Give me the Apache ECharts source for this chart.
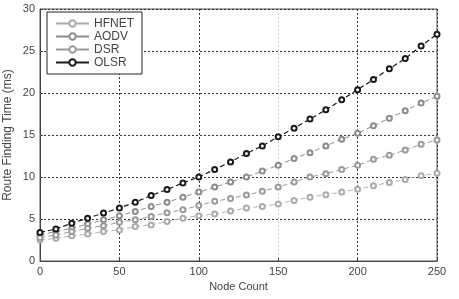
<!DOCTYPE html>
<html><head><meta charset="utf-8">
<script src="https://cdn.jsdelivr.net/npm/echarts@6/dist/echarts.min.js"></script>
<style>html,body{margin:0;padding:0;background:#fff}#c{width:459px;height:299px}</style>
</head><body><div id="c"></div>
<script>
var nodes = [0,10,20,30,40,50,60,70,80,90,100,110,120,130,140,150,160,170,180,190,200,210,220,230,240,250];
var HFNET = [2.5,2.7,3.0,3.2,3.5,3.7,4.1,4.3,4.7,5.1,5.4,5.6,5.95,6.3,6.5,6.8,7.2,7.6,7.9,8.2,8.55,8.95,9.35,9.7,10.15,10.45];
var AODV  = [3.1,3.5,3.9,4.4,4.9,5.4,5.9,6.5,7.0,7.6,8.2,8.8,9.4,10.0,10.7,11.4,12.2,12.9,13.7,14.5,15.2,16.1,17.0,17.9,18.8,19.6];
var DSR   = [2.8,3.1,3.5,3.9,4.2,4.6,4.9,5.3,5.75,6.1,6.6,7.1,7.45,7.85,8.3,8.8,9.4,10.0,10.4,10.9,11.4,12.1,12.6,13.2,13.9,14.4];
var OLSR  = [3.4,3.8,4.5,5.1,5.7,6.3,7.0,7.8,8.5,9.3,10.0,10.9,11.8,12.8,13.7,14.8,15.8,16.9,18.0,19.2,20.4,21.6,22.9,24.1,25.6,27.0];
var seriesNames = ['HFNET','AODV','DSR','OLSR'];
var seriesData = [HFNET, AODV, DSR, OLSR];
var seriesColors = ['#aaaaaa','#8c8c8c','#9a9a9a','#1a1a1a'];
var seriesWidths = [0.9,1,1,1.2];

var chart = echarts.init(document.getElementById('c'), null, {renderer:'canvas'});
var font = 'Liberation Sans, Arial, sans-serif';
function pairs(arr){ return nodes.map(function(n,i){ return [n, arr[i]]; }); }
chart.setOption({
  animation:false,
  grid:{left:40,right:22,top:9,bottom:38,containLabel:false,outerBoundsMode:'none',show:true,borderColor:'#555',borderWidth:1,backgroundColor:'#fff'},
  legend:{
    orient:'vertical', left:47, top:12,
    data:seriesNames, itemWidth:33, itemHeight:8, itemGap:0,
    backgroundColor:'#fff', borderColor:'#222', borderWidth:1, padding:[5,8,5,8],
    lineStyle:{type:'solid'},
    textStyle:{fontFamily:font,fontSize:12,color:'#444',lineHeight:13}
  },
  xAxis:{
    type:'value', min:0, max:250, interval:50,
    name:'Node Count', nameLocation:'middle', nameGap:20, nameMoveOverlap:false,
    nameTextStyle:{fontFamily:font,fontSize:11,color:'#444'},
    axisLine:{show:true,lineStyle:{color:'#444'}},
    axisTick:{show:true,inside:true,length:3,lineStyle:{color:'#444'}},
    axisLabel:{fontFamily:font,fontSize:11,color:'#444',margin:5},
    splitLine:{show:true,lineStyle:{color:['#333','#333','#333','#cfcfcf','#333','#333'],type:[2,2],width:1}}
  },
  yAxis:{
    type:'value', min:0, max:30, interval:5,
    name:'Route Finding Time (ms)', nameLocation:'middle', nameGap:26, nameMoveOverlap:false,
    nameTextStyle:{fontFamily:font,fontSize:12,color:'#444'},
    axisLine:{show:true,lineStyle:{color:'#444'}},
    axisTick:{show:true,inside:true,length:3,lineStyle:{color:'#444'}},
    axisLabel:{fontFamily:font,fontSize:11,color:'#444',margin:5},
    splitLine:{show:true,lineStyle:{color:'#333',type:[2,2],width:1}}
  },
  series: seriesNames.map(function(nm,i){
    return {
      name:nm, type:'line', data:pairs(seriesData[i]),
      symbol:'emptyCircle', symbolSize:5, showSymbol:true,
      lineStyle:{color:seriesColors[i],width:seriesWidths[i],type:[5,3]},
      itemStyle:{color:seriesColors[i],borderColor:seriesColors[i],borderWidth:1},
      z: 2+i
    };
  })
});
</script></body></html>
